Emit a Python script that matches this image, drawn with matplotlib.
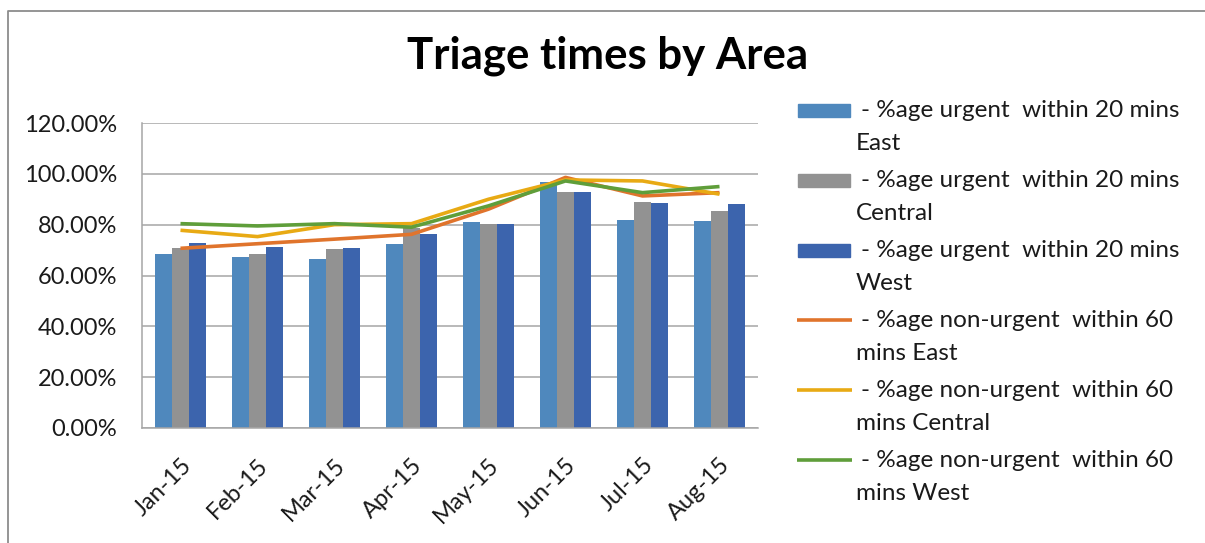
import numpy as np
import matplotlib
matplotlib.use('Agg')
from matplotlib import pyplot as plt
from matplotlib.patches import Rectangle
from matplotlib.ticker import PercentFormatter

plt.rcParams['font.family'] = ['Lato', 'DejaVu Sans']

months = ['Jan-15', 'Feb-15', 'Mar-15', 'Apr-15', 'May-15', 'Jun-15', 'Jul-15', 'Aug-15']

# bars: %age urgent within 20 mins
urg_east = [68.3, 67.4, 66.3, 72.4, 81.1, 96.6, 82.0, 81.6]
urg_central = [70.9, 68.4, 70.4, 78.8, 80.4, 93.0, 89.1, 85.2]
urg_west = [72.9, 71.3, 70.9, 76.4, 80.4, 93.0, 88.7, 88.3]

# lines: %age non-urgent within 60 mins
non_east = [70.7, 72.5, 74.3, 76.2, 86.1, 98.6, 91.3, 92.6]
non_central = [77.8, 75.3, 80.0, 80.4, 90.0, 97.6, 97.2, 92.0]
non_west = [80.4, 79.5, 80.4, 79.0, 87.4, 97.2, 92.6, 95.0]

labels = [('- %age urgent  within 20 mins', 'East'),
          ('- %age urgent  within 20 mins', 'Central'),
          ('- %age urgent  within 20 mins', 'West'),
          ('- %age non-urgent  within 60', 'mins East'),
          ('- %age non-urgent  within 60', 'mins Central'),
          ('- %age non-urgent  within 60', 'mins West')]

c_bar = ['#4F88BD', '#929292', '#3C64AD']
c_line = ['#E0742C', '#E8AA14', '#5F9E3A']
txt = '#1a1a1a'

W, H = 1205, 543
fig = plt.figure(figsize=(W / 100, H / 100), dpi=100)

ax = fig.add_axes([142 / W, (H - 428) / H, 616 / W, 305 / H])
x = np.arange(len(months))
bw = 0.217
for i, vals in enumerate([urg_east, urg_central, urg_west]):
    ax.bar(x + (i - 1) * bw, vals, bw, color=c_bar[i], zorder=2)
for i, vals in enumerate([non_east, non_central, non_west]):
    ax.plot(x, vals, color=c_line[i], lw=2.6, zorder=3, solid_capstyle='butt')

ax.set_xlim(-0.5, len(months) - 0.5)
ax.set_ylim(0, 120)
ax.set_yticks(np.arange(0, 121, 20))
ax.yaxis.set_major_formatter(PercentFormatter(decimals=2))
ax.grid(axis='y', color='#a6a6a6', lw=1.1, zorder=0)
ax.set_axisbelow(True)
ax.set_xticks(x)
ax.set_xticklabels(months, rotation=45, ha='right', rotation_mode='anchor')
ax.tick_params(axis='both', length=0, labelsize=17, colors=txt)
ax.tick_params(axis='x', pad=19)
ax.tick_params(axis='y', pad=18)
for s in ['top', 'right']:
    ax.spines[s].set_visible(False)
for s in ['left', 'bottom']:
    ax.spines[s].set_color('#a6a6a6')
    ax.spines[s].set_linewidth(1.1)

# overlay in pixel coords for frame, title and legend
ov = fig.add_axes([0, 0, 1, 1])
ov.set_xlim(0, W)
ov.set_ylim(H, 0)
ov.axis('off')
ov.plot([8, 8, W], [H, 11, 11], color='#8c8c8c', lw=1.3)

ov.text(608, 69, 'Triage times by Area', ha='center', va='baseline',
        fontsize=31.5, fontweight='bold', color='black')

for k, (l1, l2) in enumerate(labels):
    yc = 110 + 70 * k
    if k < 3:
        ov.add_patch(Rectangle((798, yc - 6.5), 52, 13, color=c_bar[k]))
    else:
        ov.plot([797, 852], [yc, yc], color=c_line[k - 3], lw=2.6, solid_capstyle='butt')
    ov.text(861, yc + 7, l1, fontsize=17.5, color=txt, va='baseline')
    ov.text(856, yc + 40, l2, fontsize=17.5, color=txt, va='baseline')

fig.savefig('out.png', dpi=100)
